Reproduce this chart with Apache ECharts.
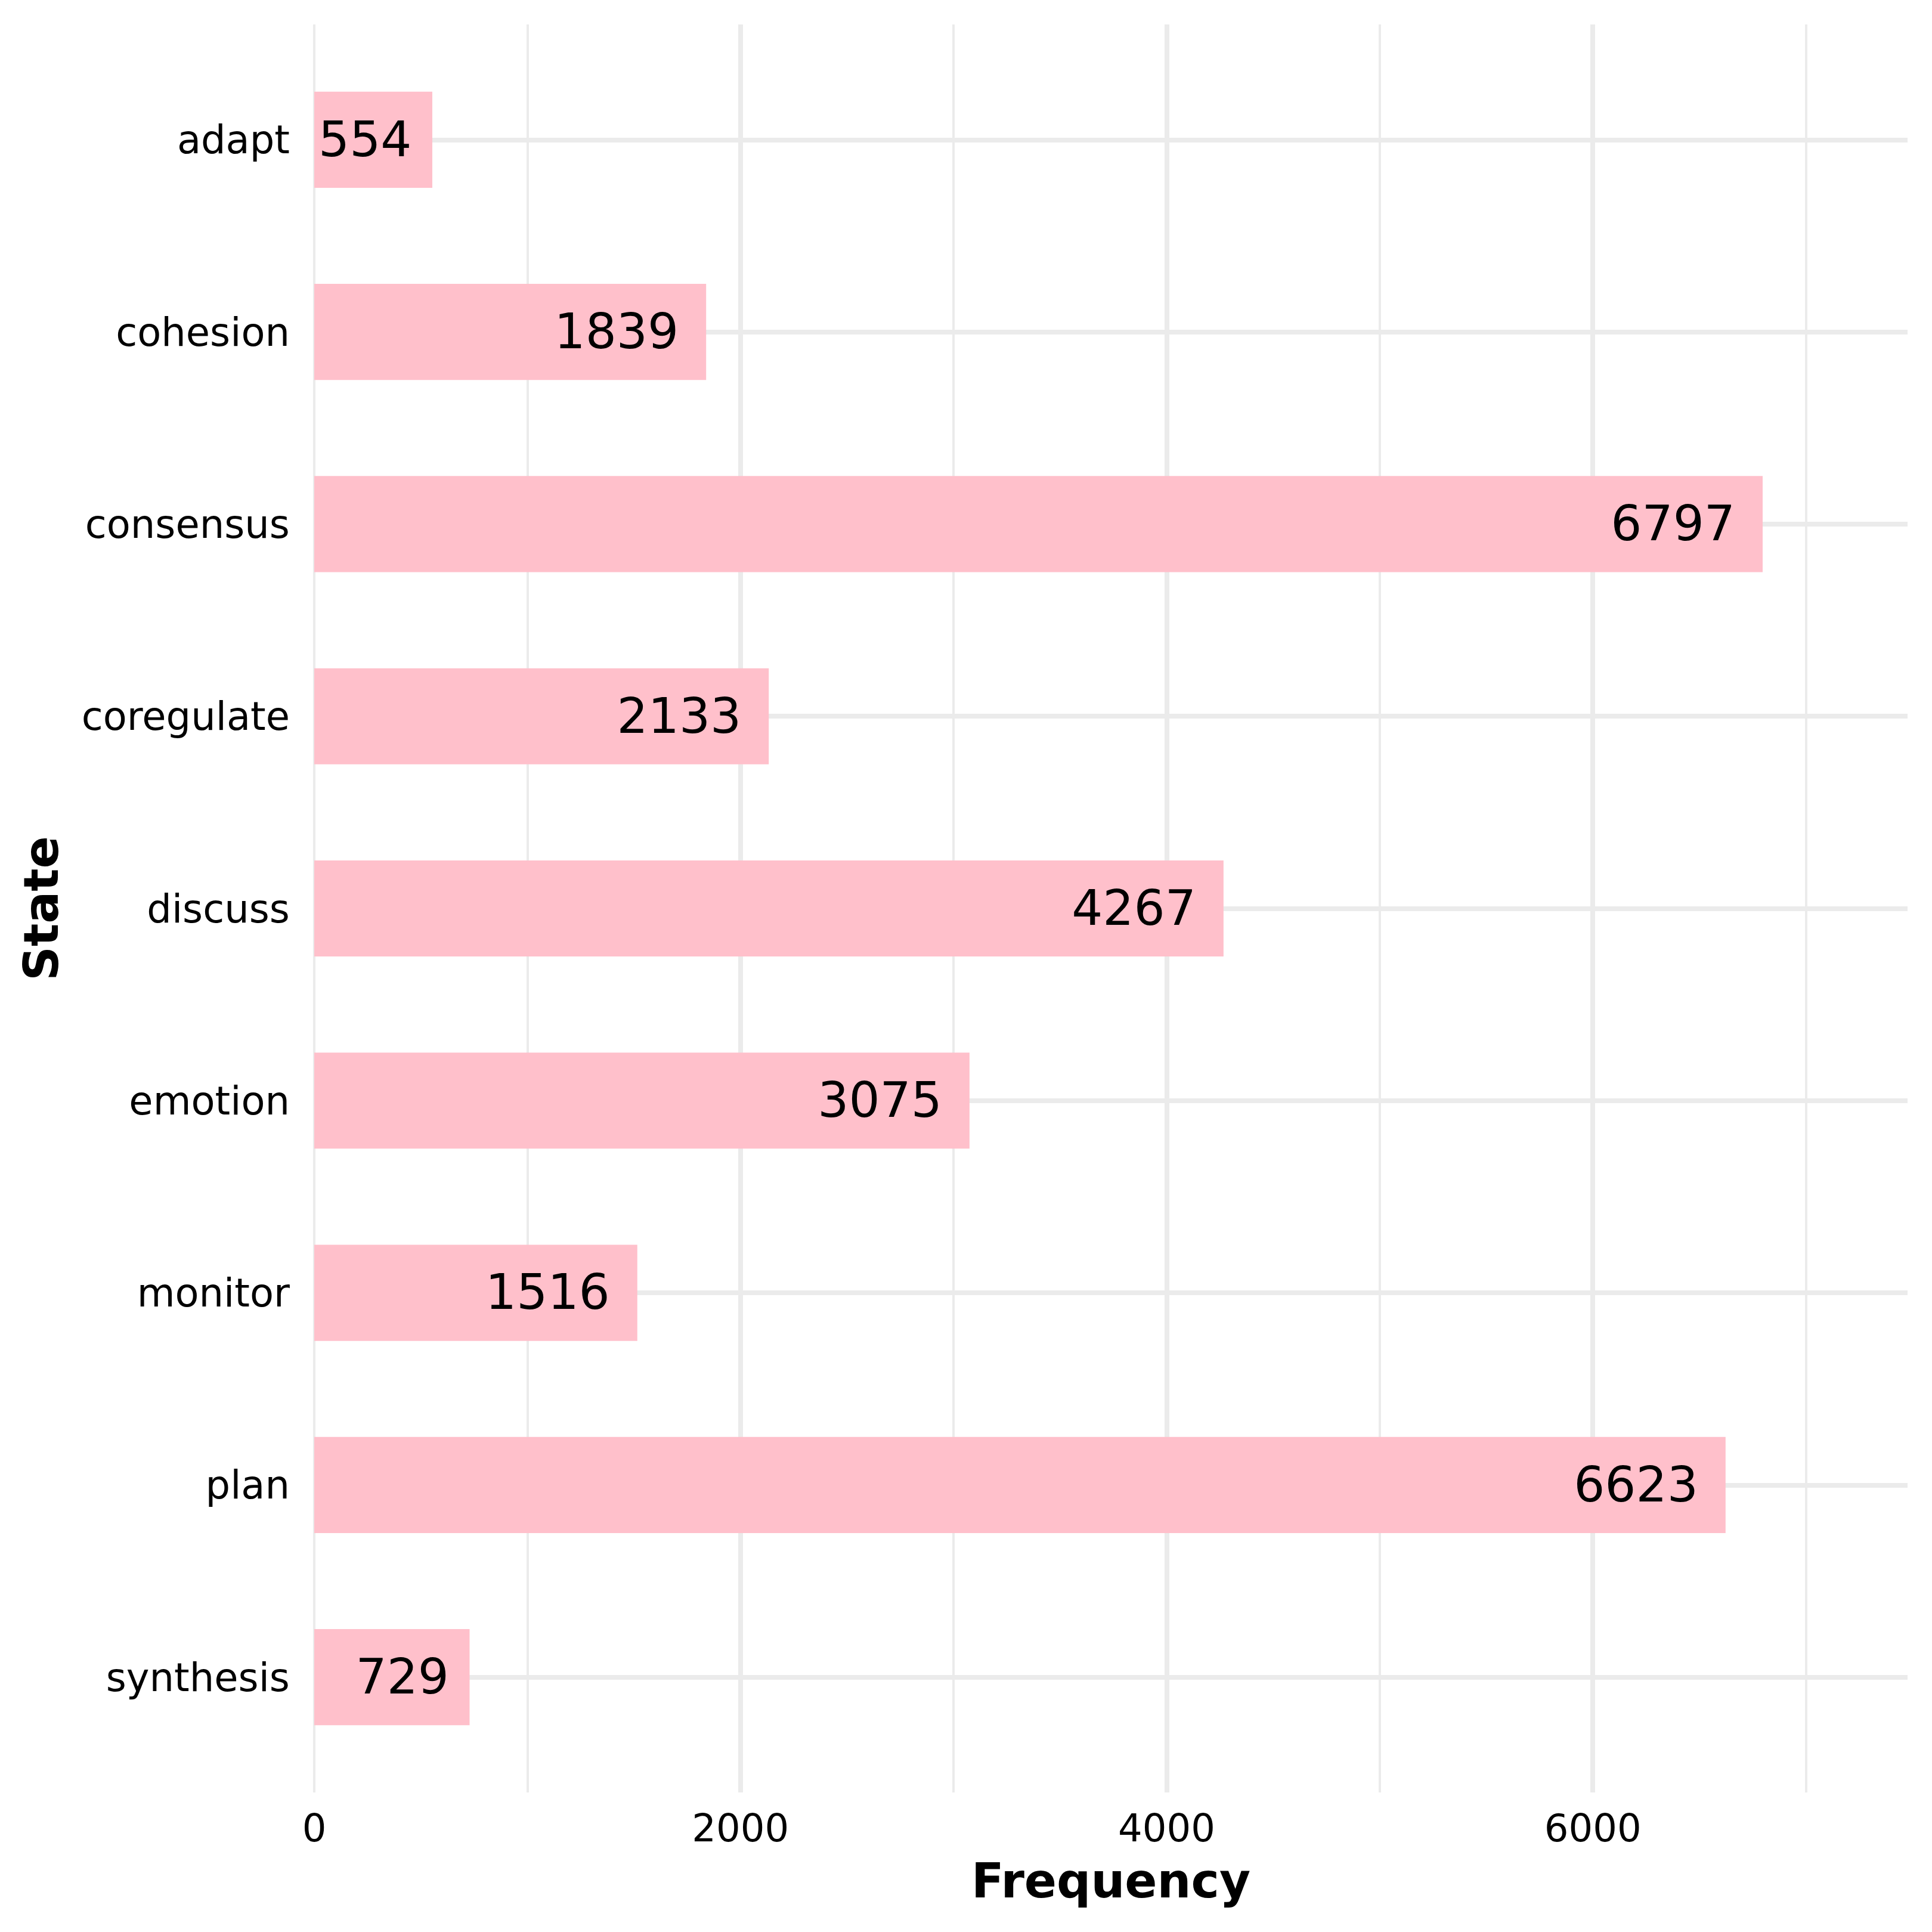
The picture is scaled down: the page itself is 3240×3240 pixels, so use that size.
<!DOCTYPE html>
<html>
<head>
    <meta charset="UTF-8">
    <script type="text/javascript" src="https://cdn.jsdelivr.net/npm/echarts@6/dist/echarts.min.js"></script>
    <style>
        html, body { margin: 0; padding: 0; background: #fff; }
    </style>
</head>
<body>
    <div style="height: 3240px;width: 3240px" id="myDiv"></div>
    <script type="text/javascript">
        var states = ['adapt', 'cohesion', 'consensus', 'coregulate', 'discuss', 'emotion', 'monitor', 'plan', 'synthesis'];
        var frequency = [554, 1839, 6797, 2133, 4267, 3075, 1516, 6623, 729];
        var xMax = 7477;  // 10% padding above the largest bar

        var font = 'DejaVu Sans';
        var gridColor = '#EBEBEB';

        var barData = [];
        for (var i = 0; i < frequency.length; i++) {
            barData.push({
                value: frequency[i],
                // label sits a bit inside the bar end, roughly proportional to its width
                label: { distance: String(frequency[i]).length * 11.5 }
            });
        }

        var chart = echarts.init(document.getElementById('myDiv'));
        var option = {
            backgroundColor: '#ffffff',
            animation: false,
            textStyle: { fontFamily: font },
            grid: [
                // bars
                { left: 527, right: 41, top: 73.2, bottom: 266.2, containLabel: false, outerBoundsMode: 'none' },
                // vertical grid lines, full panel height
                { left: 527, right: 41, top: 41, bottom: 234, containLabel: false, outerBoundsMode: 'none' }
            ],
            xAxis: [
                {
                    gridIndex: 0,
                    type: 'value',
                    position: 'bottom',
                    min: 0,
                    max: xMax,
                    show: false
                },
                {
                    gridIndex: 1,
                    type: 'value',
                    position: 'bottom',
                    min: 0,
                    max: xMax,
                    interval: 1000,
                    axisLine: { show: false },
                    axisTick: { show: false },
                    axisLabel: { show: false },
                    splitLine: {
                        show: true,
                        showMinLine: true,
                        showMaxLine: false,
                        lineStyle: { color: gridColor, width: 4 }
                    }
                },
                {
                    gridIndex: 1,
                    type: 'value',
                    position: 'bottom',
                    min: 0,
                    max: xMax,
                    interval: 2000,
                    name: 'Frequency',
                    nameLocation: 'middle',
                    nameGap: 115,
                    nameTextStyle: { fontFamily: font, fontSize: 80, fontWeight: 'bold', color: '#000' },
                    axisLine: { show: false },
                    axisTick: { show: false },
                    axisLabel: {
                        show: true,
                        margin: 33,
                        fontFamily: font,
                        fontSize: 64,
                        color: '#000',
                        showMaxLabel: false,
                        formatter: function (v) { return String(v); }
                    },
                    splitLine: {
                        show: true,
                        showMinLine: false,
                        showMaxLine: false,
                        lineStyle: { color: gridColor, width: 8 }
                    }
                }
            ],
            yAxis: [
                {
                    gridIndex: 0,
                    type: 'category',
                    position: 'left',
                    inverse: true,
                    data: states,
                    name: 'State',
                    nameLocation: 'middle',
                    nameGap: 411,
                    nameTextStyle: { fontFamily: font, fontSize: 80, fontWeight: 'bold', color: '#000' },
                    axisLine: { show: false },
                    axisTick: { show: false },
                    axisLabel: {
                        margin: 41,
                        formatter: function (v) { return '{s|' + v + '}'; },
                        rich: {
                            s: {
                                fontFamily: font,
                                fontSize: 65.5,
                                color: '#000',
                                padding: [12, 0, 0, 0]
                            }
                        }
                    },
                    splitLine: {
                        show: true,
                        alignWithLabel: true,
                        lineStyle: { color: gridColor, width: 8 }
                    }
                },
                {
                    gridIndex: 1,
                    type: 'value',
                    min: 0,
                    max: 1,
                    show: false
                }
            ],
            series: [
                {
                    name: 'Frequency',
                    type: 'bar',
                    xAxisIndex: 0,
                    yAxisIndex: 0,
                    barWidth: '50%',
                    itemStyle: { color: '#FFC0CB' },
                    label: {
                        show: true,
                        position: 'insideRight',
                        offset: [0, 6],
                        fontFamily: font,
                        fontSize: 82,
                        color: '#000'
                    },
                    data: barData
                }
            ]
        };
        chart.setOption(option);
    </script>
</body>
</html>
